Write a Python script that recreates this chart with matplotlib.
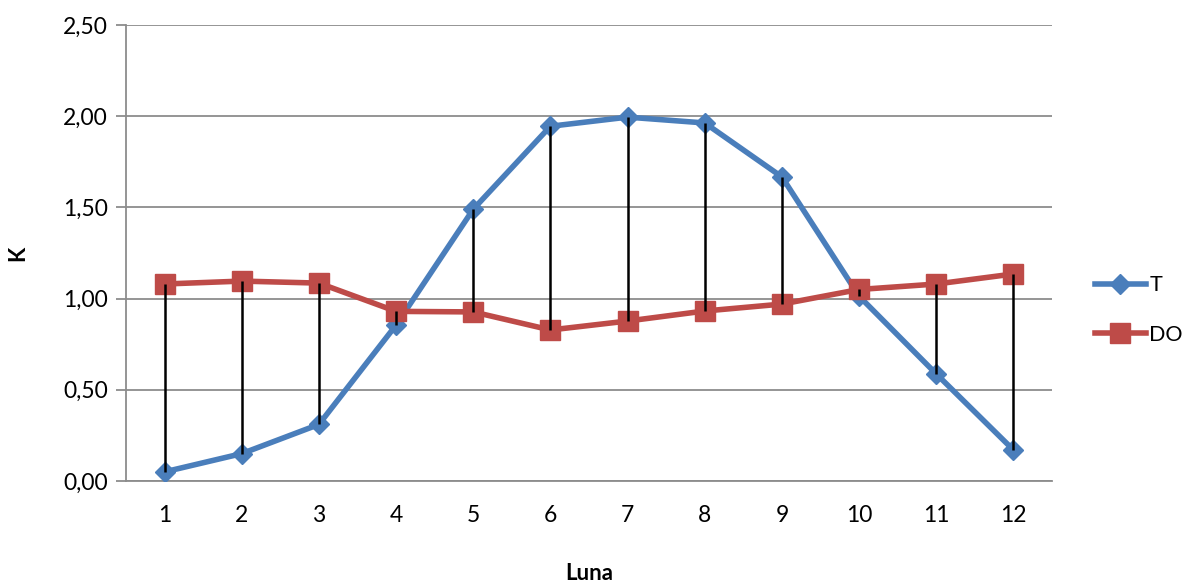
import matplotlib.pyplot as plt
from matplotlib.ticker import FuncFormatter

plt.rcParams['font.family'] = ['Lato', 'DejaVu Sans']

months = [1, 2, 3, 4, 5, 6, 7, 8, 9, 10, 11, 12]
t_vals = [0.05, 0.15, 0.31, 0.855, 1.49, 1.945, 1.995, 1.963, 1.667, 1.013, 0.587, 0.17]
do_vals = [1.08, 1.096, 1.085, 0.93, 0.927, 0.828, 0.877, 0.932, 0.97, 1.05, 1.08, 1.135]

blue = "#4A7EBB"
red = "#BE4B48"

fig = plt.figure(figsize=(11.85, 5.86), dpi=100)
ax = fig.add_axes([0.1063, 0.1792, 0.7815, 0.7781])

ax.set_ylim(0, 2.5)
ax.set_xlim(0.5, 12.5)
ax.set_yticks([0, 0.5, 1.0, 1.5, 2.0, 2.5])
ax.yaxis.set_major_formatter(FuncFormatter(lambda v, p: "{:.2f}".format(v).replace(".", ",")))
ax.set_xticks(months)
ax.grid(axis="y", color="#8c8c8c", linewidth=1.3)
ax.set_axisbelow(True)

for s in ["top", "right"]:
    ax.spines[s].set_visible(False)
ax.spines["left"].set_color("#8c8c8c")
ax.spines["bottom"].set_color("#8c8c8c")
ax.spines["left"].set_linewidth(1.3)
ax.spines["bottom"].set_linewidth(1.3)
ax.tick_params(axis="y", length=7, width=1.3, color="#8c8c8c", labelsize=16.5, pad=6)
ax.tick_params(axis="x", length=0, labelsize=16.5, pad=17)

ax.plot(months, t_vals, color=blue, linewidth=4, marker="D", markersize=10.5, label="T", zorder=3)
ax.plot(months, do_vals, color=red, linewidth=4, marker="s", markersize=14, label="DO", zorder=3)

# high-low lines between the two series
lo = [min(a, b) for a, b in zip(t_vals, do_vals)]
hi = [max(a, b) for a, b in zip(t_vals, do_vals)]
ax.vlines(months, lo, hi, color="black", linewidth=1.8, zorder=4)

ax.set_ylabel("K", fontsize=16, fontweight="bold")
ax.yaxis.set_label_coords(-0.105, 0.5)
ax.set_xlabel("Luna", fontsize=16, fontweight="bold")
ax.xaxis.set_label_coords(0.5, -0.18)

ax.legend(loc="center left", bbox_to_anchor=(1.032, 0.375), frameon=False, fontsize=15.5,
          handlelength=2.4, labelspacing=1.35, handletextpad=0.15, borderaxespad=0.2)

fig.savefig("out.png", dpi=100)
